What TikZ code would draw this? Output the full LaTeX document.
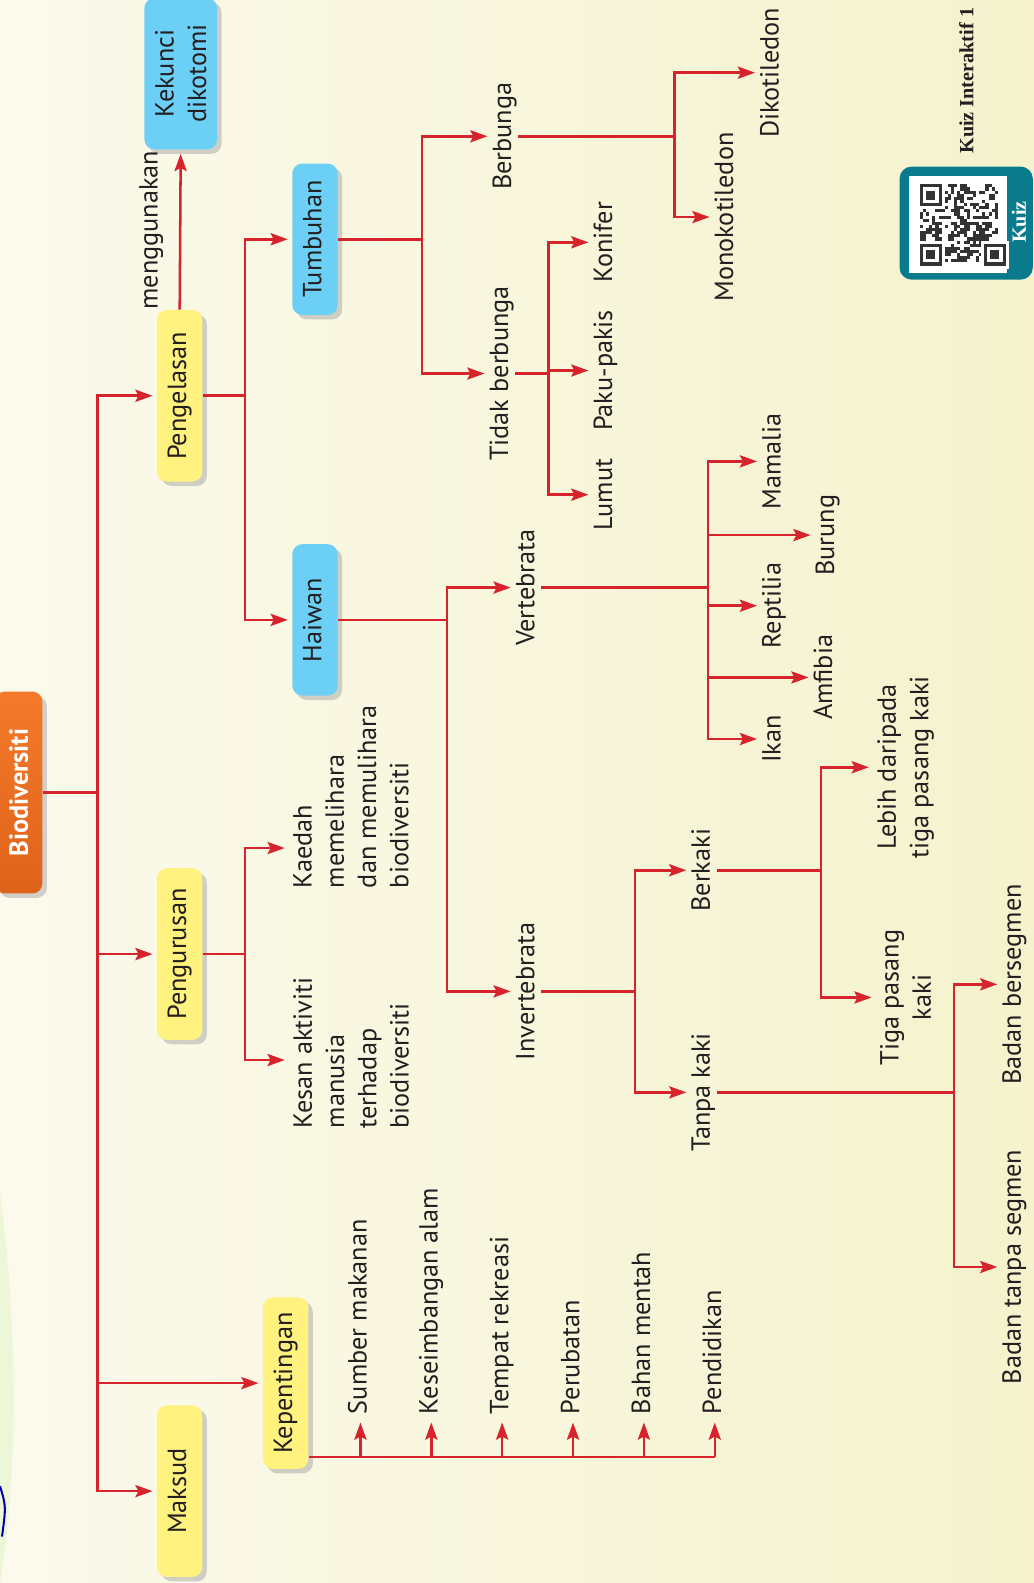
\documentclass[tikz,border=0pt]{standalone}
\usepackage{fontspec}
\setmainfont{PT Sans}
\newfontfamily\quizfont{Liberation Serif}
\usepackage{xcolor}
\usetikzlibrary{positioning,arrows.meta,shapes.geometric,calc,shadows}
\definecolor{bgleft}{HTML}{FBFAEC}
\definecolor{bgright}{HTML}{F5F2CD}
\definecolor{linered}{HTML}{D7232B}
\definecolor{boxyellow}{HTML}{FFF27E}
\definecolor{boxblue}{HTML}{6CCFF6}
\definecolor{orangelight}{HTML}{F47A2A}
\definecolor{orangedark}{HTML}{DE631B}
\definecolor{quizteal}{HTML}{0A7B8C}
\definecolor{inktext}{HTML}{231F20}
\tikzset{
  link/.style={line width=1.25pt, draw=linered},
  arr/.style={link, -{Stealth[length=8.5pt,width=6pt,inset=1.5pt]}, shorten >=2pt},
  every node/.style={anchor=center}
}

\begin{document}
\begin{tikzpicture}[
  x=0.5pt, y=-0.5pt,
  font=\fontsize{13}{16}\selectfont, text=inktext,
  lbl/.style={rotate=90, inner sep=2pt},
  word/.style={lbl, text height=1.5ex, text depth=.25ex},
  topic/.style={lbl, rounded corners=5pt, minimum width=85pt, minimum height=22.5pt,
    drop shadow={shadow xshift=2.2pt, shadow yshift=-2.2pt, fill=black!35}},
  ybox/.style={topic, fill=boxyellow, text height=1.5ex, text depth=.25ex},
  bbox/.style={topic, fill=boxblue, minimum width=75pt}
]

% background
\shade[left color=bgleft, right color=bgright] (0,0) rectangle (1024,1568);
\useasboundingbox (0,0) rectangle (1024,1568);
\fill[yellow!50!green!20, opacity=.6] (0,1180) .. controls (18,1320) and (18,1460) .. (0,1568) -- cycle;
\draw[blue!70!black, line width=1pt] (0,1472) .. controls (6,1492) .. (2,1522);

% root and first level
\node[topic, minimum width=100pt, minimum height=23.5pt, top color=orangelight, bottom color=orangedark,
  text=white, font=\fontsize{13}{16}\selectfont\bfseries] (bio) at (18.5,785) {Biodiversiti};
\node[ybox] (pengelasan)  at (178,392)  {Pengelasan};
\node[ybox] (pengurusan)  at (178,945)  {Pengurusan};
\node[ybox] (kepentingan) at (283,1370) {Kepentingan};
\node[ybox] (maksud)      at (178,1477) {Maksud};

% classification
\node[bbox, minimum height=36pt, align=center] (kekunci) at (179,73) {Kekunci\\dikotomi};
\node[word] (menggunakan) at (150,228) {menggunakan};
\node[bbox, text height=1.5ex, text depth=.25ex] (tumbuhan) at (312,237) {Tumbuhan};
\node[bbox, text height=1.5ex, text depth=.25ex] (haiwan)   at (312,614) {Haiwan};

\node[word] (berbunga)      at (500,135) {Berbunga};
\node[word] (tidakberbunga) at (497,370) {Tidak berbunga};
\node[word] (dikotiledon)   at (765,72)  {Dikotiledon};
\node[word] (monokotiledon) at (720,215) {Monokotiledon};
\node[word] (konifer)       at (600,240) {Konifer};
\node[word] (pakupakis)     at (600,367) {Paku-pakis};
\node[word] (lumut)         at (600,490) {Lumut};

\node[word] (vertebrata)   at (523,582) {Vertebrata};
\node[word] (invertebrata) at (523,982) {Invertebrata};
\node[word] (mamalia)  at (767,457) {Mamalia};
\node[word] (burung)   at (820,530) {Burung};
\node[word] (reptilia) at (767,600) {Reptilia};
\node[word] (amfibia)  at (818,671) {Amfibia};
\node[word] (ikan)     at (767,732) {Ikan};
\node[word] (berkaki)   at (697,862)  {Berkaki};
\node[word] (tanpakaki) at (697,1082) {Tanpa kaki};
\node[lbl, align=center] (lebih)      at (897,760) {Lebih daripada\\tiga pasang kaki};
\node[lbl, align=center] (tigapasang) at (897,988) {Tiga pasang\\kaki};
\node[word] (bersegmen)   at (1005,975)  {Badan bersegmen};
\node[word] (tanpasegmen) at (1005,1255) {Badan tanpa segmen};

% management
\node[lbl, align=left, anchor=north west] (kaedah) at (286,884) {Kaedah\\memelihara\\dan memulihara\\biodiversiti};
\node[lbl, align=left, anchor=north west] (kesan)  at (286,1122) {Kesan aktiviti\\manusia\\terhadap\\biodiversiti};

% trunk
\draw[arr] (bio.south) -- ++(54,0) |- (pengelasan.north);
\draw[arr] (bio.south) -- ++(54,0) |- (pengurusan.north);
\draw[arr] (bio.south) -- ++(54,0) |- (kepentingan.north);
\draw[arr] (bio.south) -- ++(54,0) |- (maksud.north);

% classification arrows
\draw[arr] (pengelasan.east) -- (kekunci.west);
\draw[arr] (pengelasan.south) -- ++(42,0) |- (tumbuhan.north);
\draw[arr] (pengelasan.south) -- ++(42,0) |- (haiwan.north);
\draw[arr] (tumbuhan.south) -- ++(83,0) |- (berbunga.north);
\draw[arr] (tumbuhan.south) -- ++(83,0) |- (tidakberbunga.north);
\draw[arr] (berbunga.south) -- ++(155,0) |- (dikotiledon.north);
\draw[arr] (berbunga.south) -- ++(155,0) |- (monokotiledon.north);
\foreach \plant in {konifer,pakupakis,lumut}
  \draw[arr] (tidakberbunga.south) -- ++(33,0) |- (\plant.north);
\draw[arr] (haiwan.south) -- ++(108,0) |- (vertebrata.north);
\draw[arr] (haiwan.south) -- ++(108,0) |- (invertebrata.north);
\foreach \animal in {mamalia,burung,reptilia,amfibia,ikan}
  \draw[arr] (vertebrata.south) -- ++(165,0) |- (\animal.north);
\draw[arr] (invertebrata.south) -- ++(93,0) |- (berkaki.north);
\draw[arr] (invertebrata.south) -- ++(93,0) |- (tanpakaki.north);
\draw[arr] (berkaki.south) -- ++(103,0) |- (lebih.north);
\draw[arr] (berkaki.south) -- ++(103,0) |- (tigapasang.north);
\draw[arr] (tanpakaki.south) -- ++(235,0) |- (bersegmen.north);
\draw[arr] (tanpakaki.south) -- ++(235,0) |- (tanpasegmen.north);

% management arrows
\draw[arr] (pengurusan.south) -- ++(42,0) |- ($(kaedah.north west)+(0,-44)$);
\draw[arr] (pengurusan.south) -- ++(42,0) |- ($(kesan.north west)+(0,-72)$);

% importance list
\coordinate (kepbus) at ($(kepentingan.south west)+(0,-12)$);
\foreach \item [count=\n] in {Sumber makanan, Keseimbangan alam, Tempat rekreasi, Perubatan, Bahan mentah, Pendidikan}{
  \node[word, anchor=west] (use\n) at (357+70.2*\n-70.2,1405) {\item};
  \draw[arr] (kepbus -| use\n.west) -- (use\n.west);
}
\draw[link] (kepbus) -- (kepbus -| use6.west);

% quiz badge
\fill[quizteal, rounded corners=6pt] (891,165) rectangle (1023,277);
\fill[white] (900,174) rectangle (997,270);
\pgfmathsetseed{17}
\foreach \i in {0,...,24}
  \foreach \j in {0,...,24}{
    \pgfmathtruncatemacro\on{rnd<0.5}
    \ifnum\on=1
      \fill[black!80] (911+3.1*\i,182.5+3.1*\j) rectangle ++(3.1,3.1);
    \fi
  }
\foreach \fx/\fy in {911/182.5, 911/241.4, 974.5/241.4}{
  \fill[white] (\fx-3.1,\fy-3.1) rectangle ++(27.9,27.9);
  \fill[black!80] (\fx,\fy) rectangle ++(21.7,21.7);
  \fill[white] (\fx+3.1,\fy+3.1) rectangle ++(15.5,15.5);
  \fill[black!80] (\fx+6.2,\fy+6.2) rectangle ++(9.3,9.3);
}
\node[word, text=white, font=\quizfont\bfseries\fontsize{10}{12}\selectfont] (kuizbadge) at (1010,220) {Kuiz};
\node[word, font=\quizfont\bfseries\fontsize{10}{12}\selectfont] (kuizinteraktif) at (958,80) {Kuiz Interaktif 1};

\end{tikzpicture}
\end{document}
